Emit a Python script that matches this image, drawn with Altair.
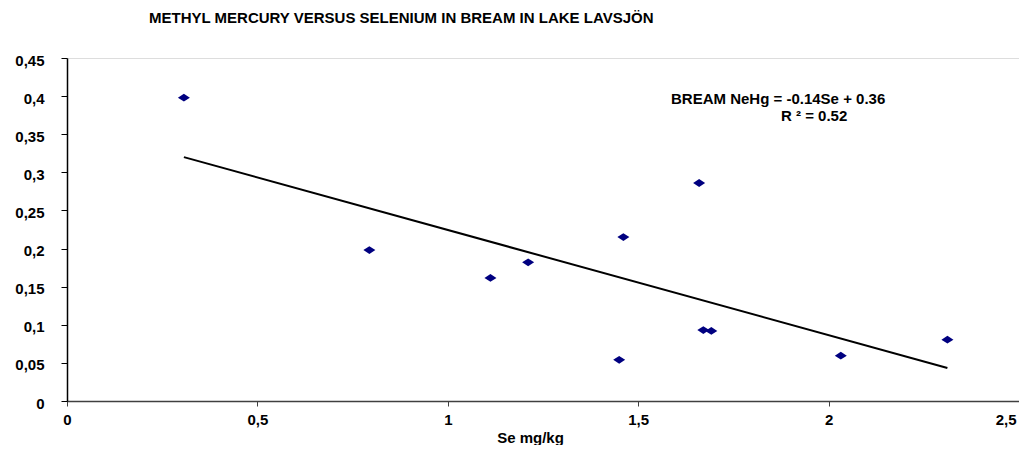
import altair as alt
import pandas as pd

# Data
se = [0.307, 0.794, 1.112, 1.211, 1.450, 1.461, 1.660, 1.671, 1.692, 2.032, 2.312]
mehg = [0.398, 0.198, 0.1615, 0.182, 0.054, 0.215, 0.286, 0.093, 0.092, 0.0595, 0.0805]
x_ticks = [0, 0.5, 1, 1.5, 2, 2.5]
y_ticks = [0, 0.05, 0.1, 0.15, 0.2, 0.25, 0.3, 0.35, 0.4, 0.45]
chart_title = ["METHYL MERCURY VERSUS SELENIUM IN BREAM IN LAKE LAVSJÖN"]
x_title = "Se mg/kg"
eq_line1 = ["BREAM NeHg = -0.14Se + 0.36"]
eq_line2 = ["R ² = 0.52"]

FONT = "Liberation Sans"
FS = 15

df = pd.DataFrame({"se": se, "mehg": mehg})

x_enc = alt.X(
    "se:Q",
    scale=alt.Scale(domain=[0, 2.5], nice=False, zero=True),
    axis=alt.Axis(
        values=x_ticks,
        title=x_title,
        titleX=463,
        titleY=41,
        titleBaseline="alphabetic",
        titleAlign="center",
        titleFont=FONT,
        titleFontSize=FS,
        titleFontWeight="bold",
        titleColor="black",
        labelExpr="replace(toString(datum.value), '.', ',')",
        labelFont=FONT,
        labelFontSize=FS,
        labelFontWeight="bold",
        labelColor="black",
        labelPadding=6,
        labelAlign={"condition": {"test": "datum.value == 2.5", "value": "right"}, "value": "center"},
        labelOffset={"condition": {"test": "datum.value == 2.5", "value": -3}, "value": 0},
        tickSize=5,
        tickColor="#404040",
        tickWidth=1,
        domainColor="#404040",
        domainWidth=1.5,
        grid=False,
    ),
)
y_enc = alt.Y(
    "mehg:Q",
    scale=alt.Scale(domain=[0, 0.45], nice=False, zero=True),
    axis=alt.Axis(
        values=y_ticks,
        title="",
        labelExpr="replace(toString(datum.value), '.', ',')",
        labelFont=FONT,
        labelFontSize=FS,
        labelFontWeight="bold",
        labelColor="black",
        labelPadding=17,
        labelOffset=2,
        tickSize=6,
        tickColor="black",
        tickWidth=1,
        domainColor="black",
        domainWidth=1.5,
        grid=False,
    ),
)

base = alt.Chart(df)

trend = base.transform_regression("se", "mehg").mark_line(
    color="black", strokeWidth=2
).encode(x=x_enc, y=y_enc)

points = base.mark_point(
    shape="M-1,0L0,-0.65L1,0L0,0.65Z",
    filled=True,
    size=144,
    color="#000080",
    opacity=1,
).encode(x=x_enc, y=y_enc)

text_style = dict(font=FONT, fontSize=FS, fontWeight="bold", color="black",
                  align="left", baseline="alphabetic")

title_txt = alt.Chart(pd.DataFrame({"t": chart_title})).mark_text(**text_style).encode(
    x=alt.value(82), y=alt.value(-35), text="t:N")

eq1 = alt.Chart(pd.DataFrame({"t": eq_line1})).mark_text(**text_style).encode(
    x=alt.value(604), y=alt.value(46), text="t:N")

eq2 = alt.Chart(pd.DataFrame({"t": eq_line2})).mark_text(**text_style).encode(
    x=alt.value(714), y=alt.value(63), text="t:N")

chart = alt.layer(trend, points, eq1, eq2, title_txt).properties(
    width=952,
    height=343,
    autosize=alt.AutoSizeParams(type="none"),
    padding={"left": 59, "top": 50, "right": 0, "bottom": 44},
).configure_view(stroke="#808080", strokeWidth=1).configure(background="white")

chart.save("out.html", embed_options={"renderer": "svg", "actions": False})
